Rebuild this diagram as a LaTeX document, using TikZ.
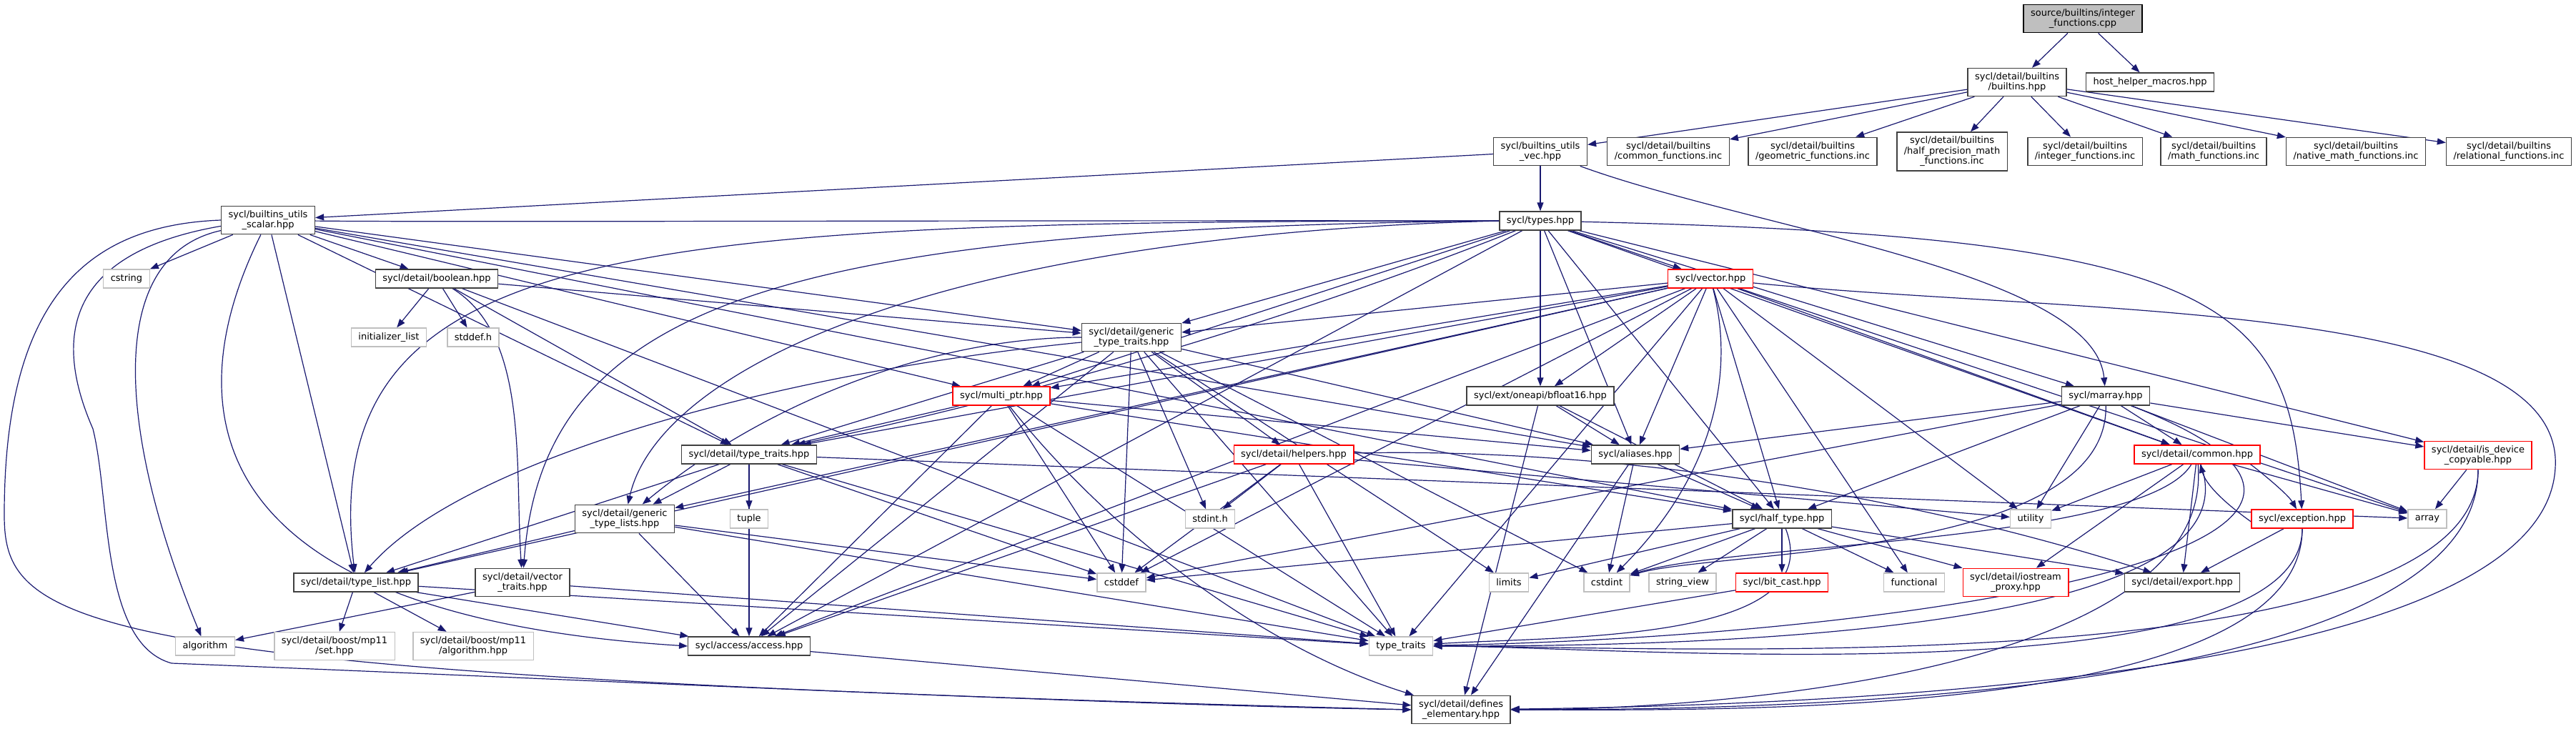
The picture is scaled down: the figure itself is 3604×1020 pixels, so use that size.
\documentclass[tikz,border=0pt]{standalone}
\usepackage{fontspec}
\setmainfont{DejaVu Sans}
\usetikzlibrary{arrows.meta, backgrounds}
\definecolor{edgeblue}{RGB}{25,25,112}
\definecolor{sysgray}{RGB}{191,191,191}
\definecolor{filegray}{RGB}{64,64,64}
\begin{document}
\begin{tikzpicture}[x = 1pt, y = -1pt,
        file/.style = {draw = filegray, line width = 1.4pt, fill = white, align = center,
            font = \fontsize{13}{14.5}\selectfont, inner xsep = 10pt, inner ysep = 6pt,
            minimum height = 26pt},
        sysfile/.style = {file, draw = sysgray},
        cutfile/.style = {file, draw = red},
        rootfile/.style = {file, draw = black, fill = sysgray},
        edge/.style = {draw = edgeblue, line width = 1.2pt,
            -{Triangle[length = 12pt, width = 9pt]}}]
    \useasboundingbox (0, 0) rectangle (3604, 1020);
    % top rows
    \node[rootfile] (root) at (2914, 26) {source/builtins/integer\\\_functions.cpp};
    \node[file] (builtins) at (2822, 115) {sycl/detail/builtins\\/builtins.hpp};
    \node[file] (hosthelper) at (3008, 115) {host\_helper\_macros.hpp};
    \node[file] (utilsvec) at (2155, 212) {sycl/builtins\_utils\\\_vec.hpp};
    \node[file] (commonfn) at (2334, 212) {sycl/detail/builtins\\/common\_functions.inc};
    \node[file] (geomfn) at (2536, 212) {sycl/detail/builtins\\/geometric\_functions.inc};
    \node[file] (halfmathfn) at (2731, 212) {sycl/detail/builtins\\/half\_precision\_math\\\_functions.inc};
    \node[file] (integerinc) at (2917, 212) {sycl/detail/builtins\\/integer\_functions.inc};
    \node[file] (mathfn) at (3097, 212) {sycl/detail/builtins\\/math\_functions.inc};
    \node[file] (nativefn) at (3296, 212) {sycl/detail/builtins\\/native\_math\_functions.inc};
    \node[file] (relfn) at (3510, 212) {sycl/detail/builtins\\/relational\_functions.inc};
    \node[file] (utilsscalar) at (375, 308) {sycl/builtins\_utils\\\_scalar.hpp};
    \node[file] (types) at (2155, 309) {sycl/types.hpp};
    \node[sysfile] (cstring) at (177, 390) {cstring};
    \node[file] (boolean) at (611, 390) {sycl/detail/boolean.hpp};
    \node[cutfile] (vector) at (2393, 390) {sycl/vector.hpp};
    \node[sysfile] (initlist) at (544, 472) {initializer\_list};
    \node[sysfile] (stddefh) at (662, 472) {stddef.h};
    \node[file] (gentraits) at (1583, 472) {sycl/detail/generic\\\_type\_traits.hpp};
    % middle rows
    \node[cutfile] (multiptr) at (1401, 554) {sycl/multi\_ptr.hpp};
    \node[file] (bfloat) at (2155, 554) {sycl/ext/oneapi/bfloat16.hpp};
    \node[file] (marray) at (2946, 554) {sycl/marray.hpp};
    \node[file] (typetraits) at (1048, 636) {sycl/detail/type\_traits.hpp};
    \node[cutfile] (helpers) at (1810, 636) {sycl/detail/helpers.hpp};
    \node[file] (aliases) at (2288, 636) {sycl/aliases.hpp};
    \node[cutfile] (common) at (3074, 636) {sycl/detail/common.hpp};
    \node[cutfile] (isdevcopy) at (3467, 637) {sycl/detail/is\_device\\\_copyable.hpp};
    \node[file] (genlists) at (874, 726) {sycl/detail/generic\\\_type\_lists.hpp};
    \node[sysfile] (tuple) at (1048, 726) {tuple};
    \node[sysfile] (stdinth) at (1693, 726) {stdint.h};
    \node[file] (halftype) at (2493, 726) {sycl/half\_type.hpp};
    \node[sysfile] (utility) at (2841, 726) {utility};
    \node[cutfile] (exception) at (3221, 726) {sycl/exception.hpp};
    \node[sysfile] (array) at (3396, 726) {array};
    % bottom rows
    \node[file] (typelist) at (498, 815) {sycl/detail/type\_list.hpp};
    \node[file] (vectraits) at (731, 815) {sycl/detail/vector\\\_traits.hpp};
    \node[sysfile] (cstddef) at (1569, 815) {cstddef};
    \node[sysfile] (limits) at (2111, 815) {limits};
    \node[sysfile] (cstdint) at (2248, 815) {cstdint};
    \node[sysfile] (stringview) at (2354, 815) {string\_view};
    \node[cutfile] (bitcast) at (2493, 815) {sycl/bit\_cast.hpp};
    \node[sysfile] (functional) at (2678, 815) {functional};
    \node[cutfile] (iostream) at (2820, 815) {sycl/detail/iostream\\\_proxy.hpp};
    \node[file] (export) at (3053, 815) {sycl/detail/export.hpp};
    \node[sysfile] (algorithm) at (287, 904) {algorithm};
    \node[sysfile] (mpset) at (468, 904) {sycl/detail/boost/mp11\\/set.hpp};
    \node[sysfile] (mpalgo) at (662, 904) {sycl/detail/boost/mp11\\/algorithm.hpp};
    \node[file] (access) at (1048, 904) {sycl/access/access.hpp};
    \node[sysfile] (stdtraits) at (1960, 904) {type\_traits};
    \node[file] (defines) at (2044, 993) {sycl/detail/defines\\\_elementary.hpp};
    \begin{scope}[on background layer]
        \foreach \t in {builtins, hosthelper} \draw[edge] (root) -- (\t);
        \foreach \t in {utilsvec, commonfn, geomfn, halfmathfn, integerinc, mathfn, nativefn, relfn}
            \draw[edge] (builtins) -- (\t);
        \foreach \t in {utilsscalar, types} \draw[edge] (utilsvec) -- (\t);
        \draw[edge] (utilsvec) .. controls (2450, 320) and (2930, 380) .. (marray);
        % builtins_utils_scalar
        \foreach \t in {cstring, boolean, multiptr, typetraits, typelist, gentraits, halftype, aliases}
            \draw[edge] (utilsscalar) -- (\t);
        \draw[edge] (utilsscalar) .. controls (140, 360) and (170, 620) .. (algorithm);
        \draw[edge] (utilsscalar) .. controls (250, 560) and (260, 860) .. (access.west);
        \draw[edge] (utilsscalar.west) .. controls (120, 315) and (6, 420) .. (6, 720)
            .. controls (6, 880) and (100, 945) .. (defines.west);
        % types
        \foreach \t in {vector, bfloat, marray, multiptr, gentraits, access, aliases, halftype, common, isdevcopy}
            \draw[edge] (types) -- (\t);
        \draw[edge] (types) .. controls (1786, 455) and (1417, 560) .. (typetraits);
        \draw[edge] (types.west) .. controls (900, 310) and (440, 330) .. (typelist);
        \draw[edge] (types.west) .. controls (1100, 320) and (760, 420) .. (vectraits);
        \draw[edge] (types.west) .. controls (1300, 330) and (920, 520) .. (genlists);
        \draw[edge] (types) .. controls (3100, 330) and (3205, 420) .. (exception);
        \draw[edge] (types.west) .. controls (1200, 308) and (500, 312) .. (utilsscalar.center)
            .. controls (120, 330) and (60, 440) .. (130, 600)
            .. controls (155, 700) and (140, 900) .. (240, 928)
            .. controls (800, 950) and (1500, 985) .. (defines.west);
        % vector
        \foreach \t in {gentraits, multiptr, bfloat, typetraits, genlists, typelist, access, aliases,
                halftype, common, utility, array, functional, cstddef, stdtraits}
            \draw[edge] (vector) -- (\t);
        \draw[edge] (vector) .. controls (2430, 532) and (2390, 673) .. (cstdint);
        \draw[edge] (vector) .. controls (2900, 440) and (3560, 420) .. (3575, 640)
            .. controls (3590, 930) and (2700, 985) .. (defines);
        % boolean
        \foreach \t in {initlist, stddefh, gentraits, typetraits, stdtraits}
            \draw[edge] (boolean) -- (\t);
        \draw[edge] (boolean) .. controls (740, 470) and (720, 650) .. (vectraits);
        % generic_type_traits
        \foreach \t in {helpers, multiptr, typetraits, access, aliases, cstddef, stdinth, limits, cstdint, stdtraits}
            \draw[edge] (gentraits) -- (\t);
        \draw[edge] (gentraits) .. controls (1316, 472) and (1080, 556) .. (genlists);
        \draw[edge] (gentraits) .. controls (1100, 520) and (650, 640) .. (typelist);
        % multi_ptr
        \foreach \t in {typetraits, access, aliases, halftype, cstddef, stdtraits}
            \draw[edge] (multiptr) -- (\t);
        \draw[edge] (multiptr) .. controls (1570, 766) and (1785, 913) .. (defines);
        % type_traits
        \foreach \t in {tuple, genlists, typelist, access, cstddef, stdtraits, array}
            \draw[edge] (typetraits) -- (\t);
        % helpers
        \foreach \t in {stdinth, cstddef, access, stdtraits, utility} \draw[edge] (helpers) -- (\t);
        \draw[edge] (helpers) .. controls (2234, 626) and (2649, 685) .. (export);
        % aliases, bfloat16
        \foreach \t in {halftype, cstdint, defines} \draw[edge] (aliases) -- (\t);
        \foreach \t in {aliases, halftype, defines} \draw[edge] (bfloat) -- (\t);
        % marray
        \foreach \t in {aliases, halftype, common, isdevcopy, utility, array, cstddef}
            \draw[edge] (marray) -- (\t);
        \draw[edge] (marray) .. controls (2950, 780) and (2400, 770) .. (cstdint);
        \draw[edge] (marray) .. controls (3480, 760) and (2700, 890) .. (stdtraits);
        % common, exception
        \foreach \t in {utility, iostream, export, array} \draw[edge] (common) -- (\t);
        \draw[edge] (common) .. controls (3150, 650) and (3200, 690) .. (exception);
        \draw[edge] (exception) .. controls (3150, 730) and (3090, 690) .. (common);
        \draw[edge] (common) .. controls (3000, 760) and (2420, 760) .. (cstdint);
        \draw[edge] (common) .. controls (3170, 900) and (2280, 904) .. (stdtraits);
        \draw[edge] (common) .. controls (3100, 940) and (2400, 993) .. (defines);
        \draw[edge] (exception) -- (export);
        \draw[edge] (exception) .. controls (3221, 980) and (2250, 904) .. (stdtraits);
        \draw[edge] (exception) .. controls (3221, 1010) and (2390, 993) .. (defines);
        % is_device_copyable
        \draw[edge] (isdevcopy) -- (array);
        \draw[edge] (isdevcopy) .. controls (3467, 960) and (2310, 904) .. (stdtraits);
        \draw[edge] (isdevcopy) .. controls (3467, 985) and (2440, 993) .. (defines);
        % lower headers
        \foreach \t in {typelist, access, cstddef, stdtraits} \draw[edge] (genlists) -- (\t);
        \foreach \t in {mpset, mpalgo, access, stdtraits} \draw[edge] (typelist) -- (\t);
        \foreach \t in {algorithm, stdtraits} \draw[edge] (vectraits) -- (\t);
        \foreach \t in {cstddef, limits, cstdint, stringview, bitcast, functional, iostream, export}
            \draw[edge] (halftype) -- (\t);
        \draw[edge] (halftype) .. controls (2560, 900) and (2180, 890) .. (stdtraits);
        \draw[edge] (bitcast) -- (stdtraits);
        \draw[edge] (access) -- (defines);
    \end{scope}
\end{tikzpicture}
\end{document}
